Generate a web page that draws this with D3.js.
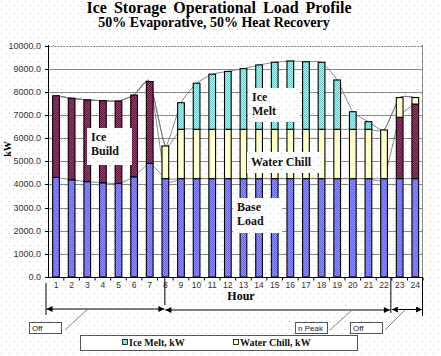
<!DOCTYPE html>
<html><head><meta charset="utf-8">
<script src="https://cdn.jsdelivr.net/npm/d3@7/dist/d3.min.js"></script>
<style>body{margin:0;background:#fff}svg{display:block}</style>
</head><body>
<svg id="c" width="441" height="356"></svg>
<script>
const hours = d3.range(1, 25);
const baseLoad  = [4300,4200,4120,4070,4040,4330,4910,4250,4250,4250,4250,4250,4250,4250,4250,4250,4250,4250,4250,4250,4250,4250,4250,4250];
const iceBuild  = [3530,3520,3530,3545,3560,3530,3530,0,0,0,0,0,0,0,0,0,0,0,0,0,0,0,2650,3220];
const waterChill= [0,0,0,0,0,0,0,1410,2130,2130,2130,2130,2130,2130,2130,2130,2130,2130,2130,2130,2130,2100,850,280];
const iceMelt   = [0,0,0,0,0,0,0,0,1150,1990,2380,2500,2620,2780,2895,2950,2920,2895,2130,760,330,0,0,0];
const yTicks = d3.range(0, 10001, 1000);
const seriesNames = ["Base Load","Ice Build","Water Chill","Ice Melt"];
const legendNames = ["Ice Melt, kW","Water Chill, kW"];

const svg = d3.select("#c");
const defs = svg.append("defs");
function checker(id, a, b){
  const p = defs.append("pattern").attr("id", id).attr("width", 2).attr("height", 2).attr("patternUnits","userSpaceOnUse");
  p.append("rect").attr("width",2).attr("height",2).attr("fill",a);
  p.append("rect").attr("width",1).attr("height",1).attr("fill",b);
  p.append("rect").attr("x",1).attr("y",1).attr("width",1).attr("height",1).attr("fill",b);
}
checker("pBase", "#8c8cff", "#6a6ae6");
checker("pBuild", "#a03a6e", "#6a1442");
checker("pMelt", "#a8f4f4", "#70cccc");
const dots = defs.append("pattern").attr("id","dots").attr("width",8).attr("height",8).attr("patternUnits","userSpaceOnUse");
dots.append("rect").attr("x",1).attr("y",1).attr("width",1).attr("height",1).attr("fill","#c4c4c4");
dots.append("rect").attr("x",5).attr("y",5).attr("width",1).attr("height",1).attr("fill","#c4c4c4");

svg.append("rect").attr("width",441).attr("height",356).attr("fill","#fff");
svg.append("rect").attr("width",441).attr("height",356).attr("fill","url(#dots)");

const fills = ["url(#pBase)","url(#pBuild)","#ffffc8","url(#pMelt)"];

const x = d3.scaleBand().domain(hours).range([48.2, 423.1]).paddingInner(0.57).paddingOuter(0.285);
const y = d3.scaleLinear().domain([0, 10000]).range([277, 45.5]);
const step = x.step();
const cx = h => x(h) + x.bandwidth()/2;

// gridlines
svg.append("g").selectAll("line").data(yTicks.slice(1)).join("line")
  .attr("x1", 48.2).attr("x2", 422.5).attr("y1", d => Math.round(y(d))+0.5).attr("y2", d => Math.round(y(d))+0.5)
  .attr("stroke", "#8a8a8a").attr("stroke-width", 1)
  .attr("stroke-dasharray", d => d === 10000 ? "2,1" : null);
svg.append("line").attr("x1",422.5).attr("x2",422.5).attr("y1",45).attr("y2",277).attr("stroke","#8a8a8a");

// stack
const table = hours.map((h,i) => ({h, "Base Load": baseLoad[i], "Ice Build": iceBuild[i], "Water Chill": waterChill[i], "Ice Melt": iceMelt[i]}));
const stack = d3.stack().keys(seriesNames)(table);

// smoothed cumulative lines
const lineGen = d3.line().x(d => cx(d.data.h)).y(d => y(d[1])).curve(d3.curveCardinal.tension(0.5));
svg.append("g").selectAll("path").data(stack).join("path")
  .attr("d", s => lineGen(s)).attr("fill","none").attr("stroke","#7a7a7a").attr("stroke-width",0.9);

// bars
svg.append("g").selectAll("g").data(stack).join("g").attr("fill", (s,i) => fills[i])
  .selectAll("rect").data(s => s.filter(d => d[1] - d[0] > 0)).join("rect")
  .attr("x", d => x(d.data.h)).attr("width", x.bandwidth())
  .attr("y", d => y(d[1])).attr("height", d => y(d[0]) - y(d[1]))
  .attr("stroke", "#000").attr("stroke-width", 1.1);

// label boxes
function labelBox(x0, y0, w, h, lines, dy){
  svg.append("rect").attr("x",x0).attr("y",y0).attr("width",w).attr("height",h).attr("fill","#fff");
  svg.append("rect").attr("x",x0).attr("y",y0).attr("width",w).attr("height",h).attr("fill","url(#dots)");
  lines.forEach((t,i) => svg.append("text").attr("x", x0+4).attr("y", y0 + dy + i*14)
    .attr("font-family","Liberation Serif, Times New Roman, serif").attr("font-weight","bold")
    .attr("font-size", 12).attr("fill","#111").text(t));
}
labelBox(87, 128, 45, 37, ["Ice","Build"], 13);
labelBox(248, 88, 52, 34, ["Ice","Melt"], 13);
labelBox(247, 152, 75, 21, ["Water Chill"], 14);
labelBox(233, 198, 49, 35, ["Base","Load"], 13);

// axes
const font = "Liberation Sans, Arial, sans-serif";
svg.append("line").attr("x1",48.5).attr("x2",48.5).attr("y1",45).attr("y2",277.5).attr("stroke","#000");
svg.append("line").attr("x1",48).attr("x2",423).attr("y1",277.5).attr("y2",277.5).attr("stroke","#000");
svg.append("g").selectAll("line").data(yTicks).join("line")
  .attr("x1",45).attr("x2",48.5).attr("y1", d => Math.round(y(d))+0.5).attr("y2", d => Math.round(y(d))+0.5).attr("stroke","#000");
svg.append("g").selectAll("text").data(yTicks).join("text")
  .attr("x", 41).attr("y", d => y(d) + 3).attr("text-anchor","end")
  .attr("font-family", font).attr("font-size", 9).attr("fill","#333").text(d => d.toFixed(1));
svg.append("g").selectAll("line").data(hours).join("line")
  .attr("x1", d => x(d) - x.paddingInner()*step/2 + step).attr("x2", d => x(d) - x.paddingInner()*step/2 + step)
  .attr("y1", 277.5).attr("y2", 280.5).attr("stroke","#000");
svg.append("g").selectAll("text").data(hours).join("text")
  .attr("x", d => cx(d)).attr("y", 288).attr("text-anchor","middle")
  .attr("font-family", font).attr("font-size", 8.5).attr("fill","#333").text(d => d);

svg.append("text").attr("x", 241).attr("y", 300).attr("text-anchor","middle")
  .attr("font-family","Liberation Serif, Times New Roman, serif").attr("font-weight","bold").attr("font-size",12).text("Hour");
svg.append("text").attr("transform","translate(11,149) rotate(-90)").attr("text-anchor","middle")
  .attr("font-family","Liberation Serif, Times New Roman, serif").attr("font-weight","bold").attr("font-size",10).text("kW");

// titles
svg.append("text").attr("x", 219).attr("y", 13).attr("text-anchor","middle")
  .attr("font-family","Liberation Serif, Times New Roman, serif").attr("font-weight","bold").attr("font-size",16)
  .attr("word-spacing", 3).text("Ice Storage Operational Load Profile");
svg.append("text").attr("x", 214).attr("y", 27).attr("text-anchor","middle")
  .attr("font-family","Liberation Serif, Times New Roman, serif").attr("font-weight","bold").attr("font-size",14)
  .text("50% Evaporative, 50% Heat Recovery");

// period markers
const b8 = cx(8), b22 = x(22) + x.bandwidth() + x.paddingInner()*step/2, bEnd = 423;
const ann = svg.append("g").attr("stroke","#000").attr("stroke-width",1);
[[46, 283, 315],[b8-0.5, 278, 305],[b22-1, 278, 313],[bEnd-0.5, 278, 316]].forEach(v =>
  ann.append("line").attr("x1",v[0]).attr("x2",v[0]).attr("y1",v[1]).attr("y2",v[2]));
defs.append("marker").attr("id","ah").attr("viewBox","0 0 10 10").attr("refX",10).attr("refY",5)
  .attr("markerWidth",7).attr("markerHeight",6).attr("orient","auto-start-reverse")
  .append("path").attr("d","M0,0L10,5L0,10z").attr("fill","#000");
[[46.5, b8-1, 309],[b8, b22-2, 310],[b22, bEnd-1, 309.5]].forEach(a =>
  ann.append("line").attr("x1",a[0]).attr("x2",a[1]).attr("y1",a[2]).attr("y2",a[2])
    .attr("marker-start","url(#ah)").attr("marker-end","url(#ah)"));
[[65,330,88,309],[330,330,352,310],[385,330,405,310]].forEach(l =>
  svg.append("line").attr("x1",l[0]).attr("y1",l[1]).attr("x2",l[2]).attr("y2",l[3]).attr("stroke","#666").attr("stroke-width",0.8));
[[29,"Off"],[295,"n Peak"],[350,"Off"]].forEach(b => {
  svg.append("rect").attr("x",b[0]+0.5).attr("y",322.5).attr("width",32).attr("height",11).attr("fill","#fff").attr("stroke","#555");
  svg.append("text").attr("x",b[0]+3).attr("y",331).attr("font-family",font).attr("font-size",8).attr("fill","#222").text(b[1]);
});

// legend
svg.append("rect").attr("x",80.5).attr("y",335.5).attr("width",277).attr("height",15).attr("fill","#fff").attr("stroke","#555");
const leg = [[122, "url(#pMelt)", legendNames[0]],[233, "#ffffc8", legendNames[1]]];
leg.forEach(l => {
  svg.append("rect").attr("x",l[0]+0.5).attr("y",339.5).attr("width",5).attr("height",5).attr("fill",l[1]).attr("stroke","#000").attr("stroke-width",0.8);
  svg.append("text").attr("x",l[0]+7).attr("y",346).attr("font-family","Liberation Serif, Times New Roman, serif")
    .attr("font-weight","bold").attr("font-size",10).attr("fill","#111").text(l[2]);
});
</script>
</body></html>
